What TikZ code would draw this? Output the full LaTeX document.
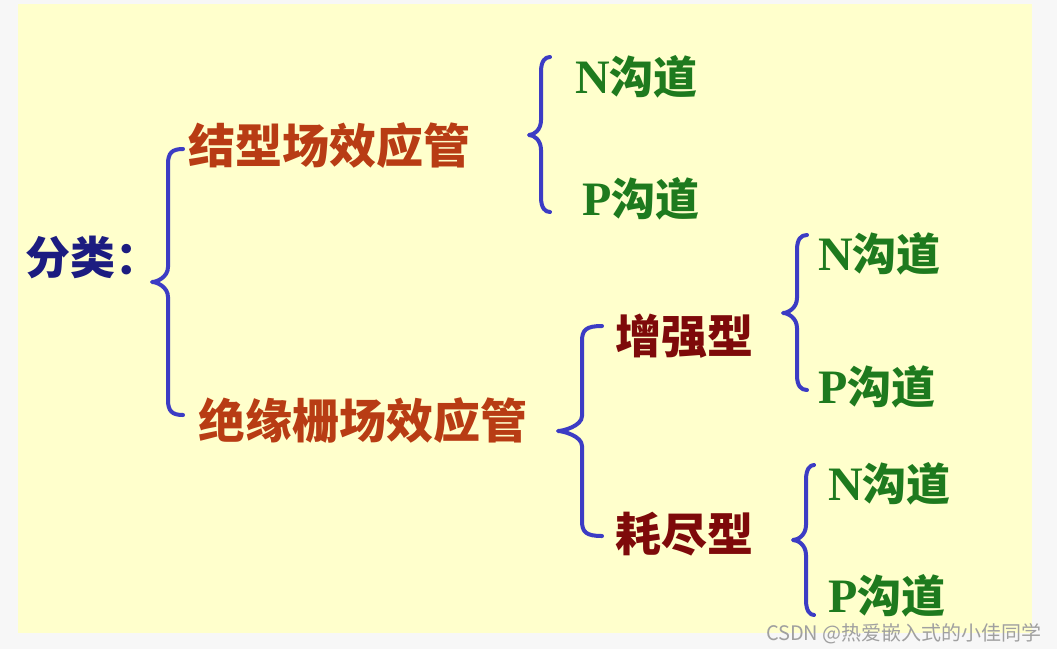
\documentclass[tikz,border=0pt]{standalone}
\usepackage{fontspec}
\newfontfamily\cjk{Noto Sans CJK SC}
\newfontfamily\tnr{Liberation Serif}
\definecolor{pagebg}{HTML}{F7F7F7}
\definecolor{slidebg}{HTML}{FFFFCC}
\definecolor{navyc}{HTML}{1C1C80}
\definecolor{rustc}{HTML}{B83C14}
\definecolor{maroonc}{HTML}{7E0A0A}
\definecolor{greenc}{HTML}{1E7A1E}
\definecolor{bracec}{HTML}{3C3CC4}
\definecolor{markc}{HTML}{A0A0A0}
\newcommand\cbrace[6]{%
  \draw[bracestyle] (#1,#4) .. controls (#2+4,#4) and (#2,#4+4) .. (#2,#4+15)
    -- (#2,#5-15) .. controls (#2,#5-5) and (#3+5,#5) .. (#3,#5)
    .. controls (#3+5,#5) and (#2,#5+5) .. (#2,#5+15)
    -- (#2,#6-15) .. controls (#2,#6-4) and (#2+4,#6) .. (#1,#6);}
\tikzset{
  bracestyle/.style={draw=bracec, line width=4pt, line cap=round, line join=round},
  lbl/.style={anchor=base west, inner sep=0pt, font=\cjk\bfseries},
  big/.style={lbl, text=rustc, font=\cjk\bfseries\fontsize{47}{50}\selectfont},
  mid/.style={lbl, text=maroonc, font=\cjk\bfseries\fontsize{46}{50}\selectfont},
  chan/.style={lbl, text=greenc, font=\cjk\bfseries\fontsize{44}{48}\selectfont},
}
\newcommand\Lat[1]{{\tnr\fontsize{48}{50}\selectfont #1}}
\begin{document}
\begin{tikzpicture}[x=1pt,y=-1pt]
  \fill[pagebg] (0,0) rectangle (1057,649);
  \useasboundingbox (0,0) rectangle (1057,649);
  \fill[slidebg] (18,4) rectangle (1032,633);

  \node[lbl, text=navyc, font=\cjk\bfseries\fontsize{45}{48}\selectfont] (cls) at (25,274) {分类：};
  \node[big] (jfet) at (188,163) {结型场效应管};
  \node[big] (mos) at (198,438) {绝缘栅场效应管};
  \node[mid] (enh) at (615,353) {增强型};
  \node[mid] (dep) at (615,551) {耗尽型};

  \node[chan] (jn) at (575,93) {\Lat{N}沟道};
  \node[chan] (jp) at (582,215) {\Lat{P}沟道};
  \node[chan] (en) at (818,270) {\Lat{N}沟道};
  \node[chan] (ep) at (818,403) {\Lat{P}沟道};
  \node[chan] (dn) at (828,500) {\Lat{N}沟道};
  \node[chan] (dp) at (828,612) {\Lat{P}沟道};

  \cbrace{183}{168}{152}{149}{282}{415}
  \cbrace{550}{541}{529}{57}{135}{212}
  \cbrace{602}{582}{558}{326}{431}{536}
  \cbrace{807}{797}{783}{235}{313}{390}
  \cbrace{814}{806}{793}{465}{540}{615}

  \node[anchor=base east, inner sep=0pt, text=markc, font=\cjk\fontsize{20}{22}\selectfont] (wm) at (1042,640) {CSDN @热爱嵌入式的小佳同学};
\end{tikzpicture}
\end{document}
